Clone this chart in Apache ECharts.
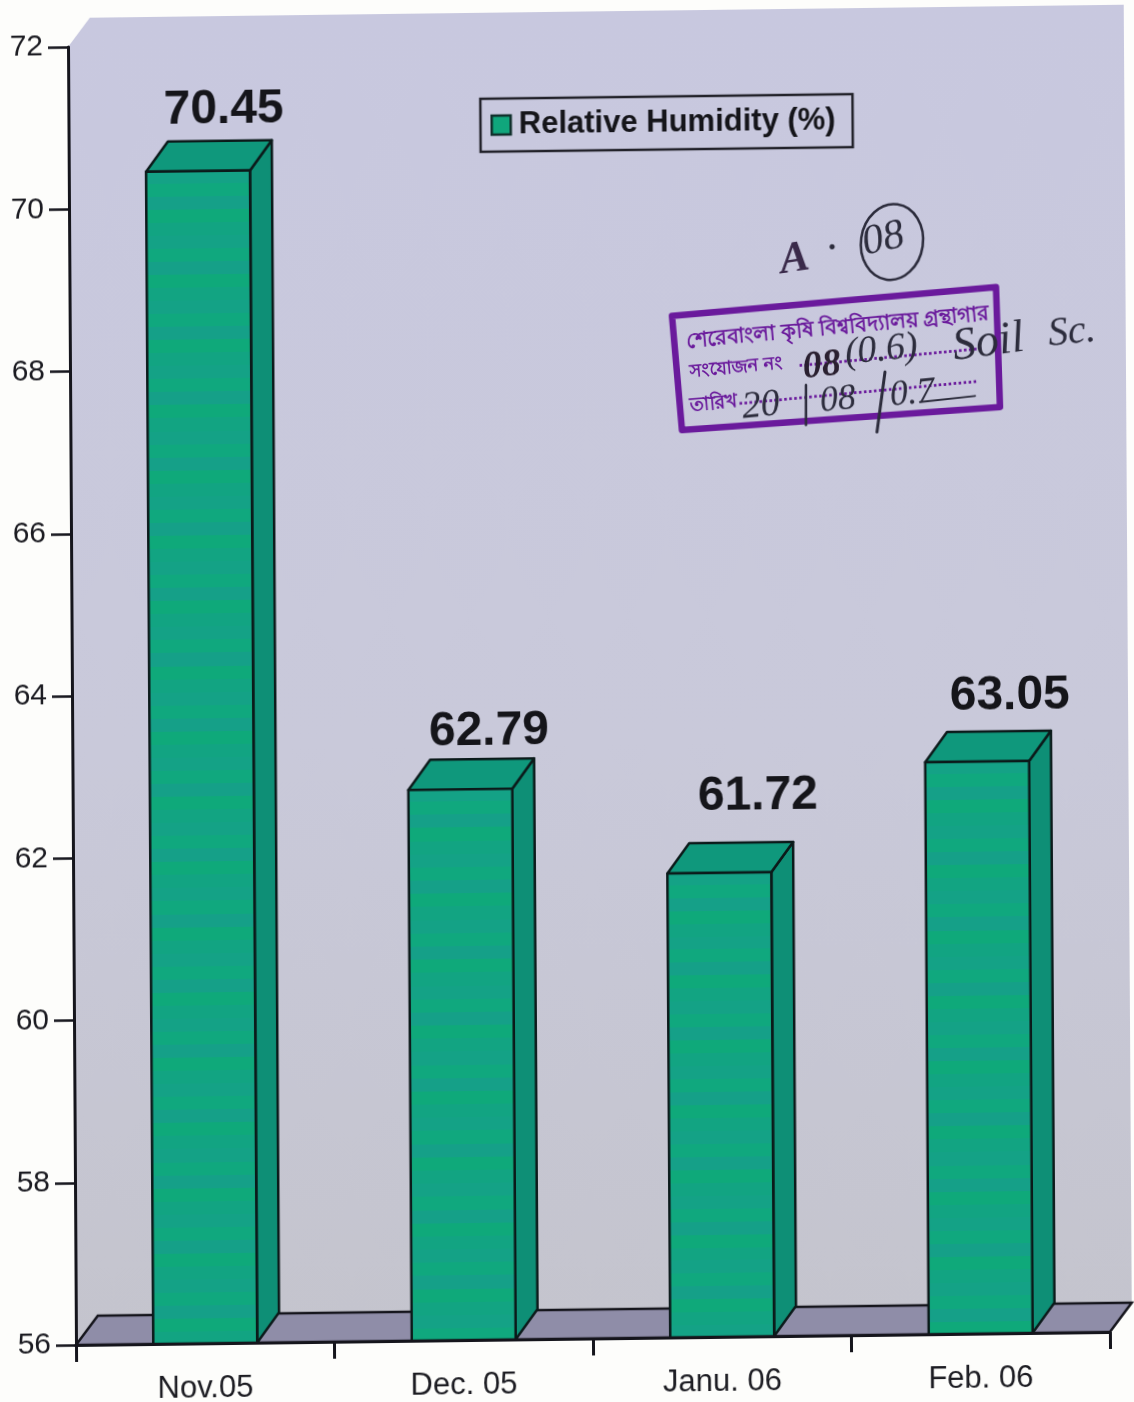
<!DOCTYPE html>
<html>
<head>
<meta charset="utf-8">
<style>
html,body{margin:0;padding:0;background:#fdfdfb;overflow:hidden;width:1134px;height:1402px}
#chart{width:1134px;height:1402px;transform-origin:76px 1345px;transform:matrix(1,-0.01257,0.00616,1,0,0)}
</style>
<script src="https://cdn.jsdelivr.net/npm/echarts@6/dist/echarts.min.js"></script>
</head>
<body>
<div id="chart"></div>
<script>
const categories = ['Nov.05', 'Dec. 05', 'Janu. 06', 'Feb. 06'];
const humidity = [70.45, 62.79, 61.72, 63.05];
const seriesName = 'Relative Humidity (%)';
const yMin = 56, yMax = 72, yStep = 2;

// presentation only
const DEPTH_X = 22, DEPTH_Y = -29;
const labelNudges = [[26, -61], [29, -57], [39, -76], [33, -65]];
const FONT = '"Liberation Sans", Arial, sans-serif';
const HAND = '"Liberation Serif", serif';
const BENGALI = '"Noto Sans", sans-serif';
const INK = '#1c1c22', STAMP = '#6a1a9c', PEN = '#2c2c3c';
const SKEW_A = 0.00616, SKEW_B = -0.01257;

function stripes(h) {
  const tones = ['#14a286', '#10a87e', '#15a088', '#0fa97a', '#12a482'];
  const n = Math.max(2, Math.round(h / 13));
  const stops = [];
  for (let k = 0; k < n; k++) {
    const base = tones[k % tones.length];
    stops.push({offset: k / n, color: base}, {offset: (k + 1) / n, color: base});
  }
  return new echarts.graphic.LinearGradient(0, 0, 0, 1, stops);
}

function renderWall(params) {
  const g = params.coordSys;
  const x0 = g.x, y0 = g.y, x1 = g.x + g.width, y1 = g.y + g.height;
  const bx0 = x0 + DEPTH_X, bx1 = x1 + DEPTH_X, by0 = y0 + DEPTH_Y, by1 = y1 + DEPTH_Y;
  const wall = new echarts.graphic.LinearGradient(0, 0, 0, 1, [
    {offset: 0, color: '#c8c8df'}, {offset: 0.55, color: '#c9c9da'}, {offset: 1, color: '#c4c4cd'}
  ]);
  return {type: 'group', silent: true, children: [
    {type: 'polygon', shape: {points: [[x0, y0], [bx0, by0], [bx1, by0], [bx1, by1], [x1, y1], [x0, y1]]},
      style: {fill: wall}},
    {type: 'polygon', shape: {points: [[x0, y1], [bx0, by1], [bx1, by1], [x1, y1]]},
      style: {fill: '#8f8da8', stroke: '#15151c', lineWidth: 2.5}}
  ]};
}

function renderBar(params, api) {
  const i = api.value(0), v = api.value(1);
  const top = api.coord([i, v]), base = api.coord([i, yMin]);
  const w = api.size([1, 0])[0] * 0.402;
  const l = top[0] - w / 2, r = top[0] + w / 2, t = top[1], b = base[1];
  const dx = DEPTH_X, dy = DEPTH_Y - 1;
  const edge = {stroke: '#0b1a1a', lineWidth: 2.5, lineJoin: 'round'};
  const nudge = labelNudges[params.dataIndex];
  return {type: 'group', children: [
    {type: 'polygon', shape: {points: [[r, t], [r + dx, t + dy], [r + dx, b + dy], [r, b]]},
      style: Object.assign({fill: '#0e8f76'}, edge)},
    {type: 'polygon', shape: {points: [[l, t], [l + dx, t + dy], [r + dx, t + dy], [r, t]]},
      style: Object.assign({fill: '#0f987c'}, edge)},
    {type: 'rect', shape: {x: l, y: t, width: w, height: b - t},
      style: Object.assign({fill: stripes(b - t)}, edge)},
    {type: 'text', style: {x: top[0] + nudge[0], y: t + nudge[1],
      text: v.toFixed(2), fill: '#15151a', font: 'bold 48px ' + FONT, align: 'center', verticalAlign: 'middle'}}
  ]};
}

// takes a position on the finished page and undoes the page skew
function at(x, y) {
  const X = x - SKEW_A * (y - 1345);
  return [X, y - SKEW_B * (X - 76)];
}
function t(text, x, y, font, fill, rot) {
  const p = at(x, y);
  return {type: 'text', z: 10, x: p[0], y: p[1], rotation: (rot || 0) * Math.PI / 180, silent: true,
    style: {text: text, fill: fill, font: font, verticalAlign: 'middle', align: 'left'}};
}
function hand(size) { return 'italic ' + size + 'px ' + HAND; }
function stroke(x1, y1, x2, y2, w, color) {
  const a = at(x1, y1), b = at(x2, y2);
  return {type: 'line', z: 10, silent: true, shape: {x1: a[0], y1: a[1], x2: b[0], y2: b[1]},
    style: {stroke: color || PEN, lineWidth: w, lineCap: 'round'}};
}
const stampCorners = [[672, 316], [996, 287], [1000, 407], [682, 430]].map(c => at(c[0], c[1]));
const ellipseCentre = at(892, 242);

const graphicEls = [
  {type: 'polygon', z: 9, silent: true, shape: {points: stampCorners},
    style: {fill: 'rgba(0,0,0,0)', stroke: STAMP, lineWidth: 6.5, lineJoin: 'round'}},
  t('শেরেবাংলা কৃষি বিশ্ববিদ্যালয় গ্রন্থাগার', 686, 342, 'bold 21px ' + BENGALI, STAMP, 4.6),
  t('সংযোজন নং', 690, 372, 'bold 18px ' + BENGALI, STAMP, 4.6),
  t('তারিখ', 690, 406, 'bold 19px ' + BENGALI, STAMP, 4.6),
  t('.....................................', 798, 362, 'bold 18px ' + FONT, STAMP, 4.6),
  t('................................................', 738, 400, 'bold 18px ' + FONT, STAMP, 4.6),
  t('A', 780, 262, 'italic bold 44px ' + HAND, '#3a2a4a', 8),
  t('·', 826, 250, hand(44), PEN, 0),
  t('08', 863, 244, hand(42), PEN, 12),
  {type: 'ellipse', z: 10, silent: true, shape: {cx: ellipseCentre[0], cy: ellipseCentre[1], rx: 31, ry: 38},
    rotation: -0.15, originX: ellipseCentre[0], originY: ellipseCentre[1],
    style: {fill: 'none', stroke: PEN, lineWidth: 2.5}},
  t('08', 803, 368, 'italic bold 38px ' + HAND, '#2a2030', 5),
  t('(0.6)', 845, 354, hand(38), PEN, 5),
  t('Soil', 953, 348, hand(46), PEN, 7),
  t('Sc.', 1048, 335, hand(40), PEN, 5),
  t('20', 742, 408, hand(38), PEN, 5),
  t('08', 820, 402, hand(36), PEN, 5),
  t('0.7', 890, 396, hand(36), PEN, 5),
  stroke(806, 385, 806, 425, 2.5),
  stroke(885, 372, 877, 432, 3),
  stroke(920, 402, 975, 396, 2)
];

const chart = echarts.init(document.getElementById('chart'), null, {renderer: 'canvas', width: 1134, height: 1402});
chart.setOption({
  animation: false,
  backgroundColor: 'transparent',
  grid: {left: 76, top: 47, width: 1034, height: 1298, containLabel: false, outerBoundsMode: 'none'},
  legend: {
    data: [{name: seriesName, icon: 'rect', itemStyle: {color: '#10a67c', borderColor: '#10302c', borderWidth: 2.5}}],
    left: 488, top: 104, orient: 'horizontal',
    padding: [11, 17, 11, 10], itemWidth: 19, itemHeight: 19,
    borderColor: '#22222a', borderWidth: 2.5, backgroundColor: 'rgba(0,0,0,0)',
    selectedMode: false,
    textStyle: {color: '#15151a', fontFamily: FONT, fontWeight: 'bold', fontSize: 31, lineHeight: 31, padding: [0, 0, 0, 3]}
  },
  xAxis: {
    type: 'category', data: categories, z: 6,
    axisLine: {lineStyle: {color: '#15151c', width: 3}},
    axisTick: {show: true, alignWithLabel: false, length: 17, lineStyle: {color: '#15151c', width: 3}},
    axisLabel: {color: INK, fontFamily: FONT, fontSize: 31, margin: 30, interval: 0}
  },
  yAxis: {
    type: 'value', min: yMin, max: yMax, interval: yStep, z: 6,
    axisLine: {show: true, lineStyle: {color: '#15151c', width: 3}},
    axisTick: {show: true, length: 20, lineStyle: {color: '#15151c', width: 2.5}},
    axisLabel: {color: INK, fontFamily: FONT, fontSize: 30, margin: 25, lineHeight: 32, padding: [2, 0, 0, 0]},
    splitLine: {show: false}
  },
  graphic: {elements: graphicEls},
  series: [
    {name: 'wall', type: 'custom', z: 0, silent: true, clip: false, coordinateSystem: 'cartesian2d',
      data: [[0, yMin]], encode: {x: 0, y: 1}, renderItem: renderWall},
    {name: seriesName, type: 'custom', z: 3, clip: false, coordinateSystem: 'cartesian2d',
      itemStyle: {color: '#10a67c'},
      data: humidity.map((v, i) => [i, v]), encode: {x: 0, y: 1}, renderItem: renderBar}
  ]
});
</script>
</body>
</html>
